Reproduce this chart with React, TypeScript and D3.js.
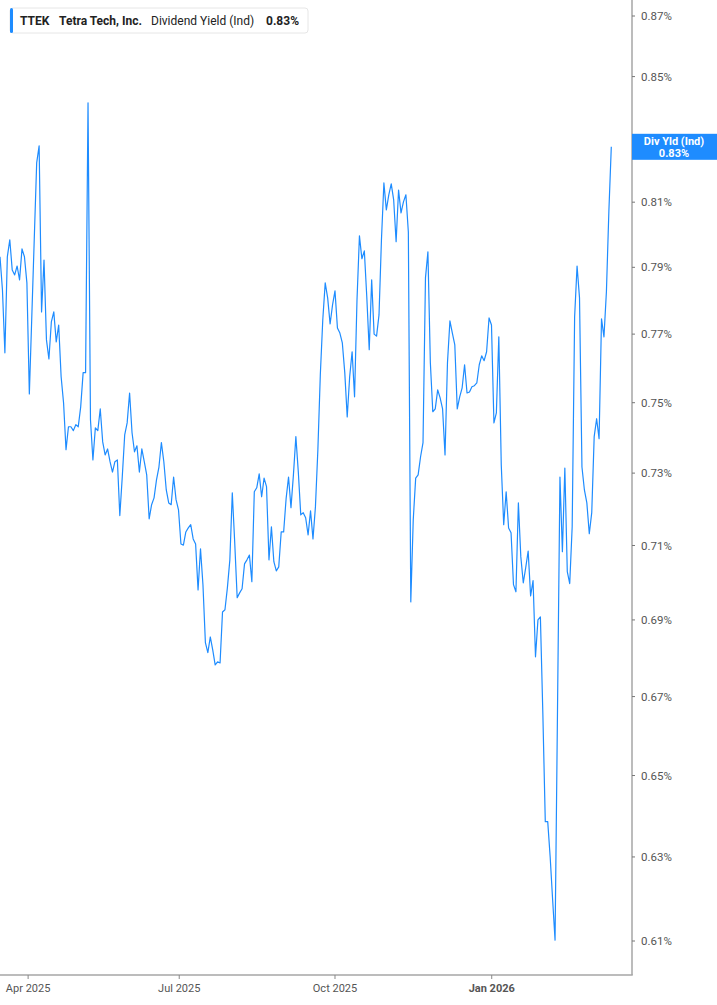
import React, { useEffect } from 'react';
import * as d3 from 'd3';

// Daily dividend yield (%), one value per trading day, Mar 2025 -> Mar 2026
const yieldValues = [
  0.7932, 0.7832, 0.7645, 0.7932, 0.7984, 0.7892, 0.7877, 0.7904, 0.7862, 0.7956,
  0.7932, 0.7853, 0.7525, 0.7751, 0.7984, 0.8223, 0.8277, 0.7766, 0.7922, 0.7683,
  0.7627, 0.7736, 0.7766, 0.7677, 0.7727, 0.7575, 0.7499, 0.7366, 0.7431, 0.7431,
  0.7420, 0.7437, 0.7431, 0.7488, 0.7587, 0.7587, 0.8415, 0.7451, 0.7337, 0.7428,
  0.7420, 0.7482, 0.7388, 0.7351, 0.7368, 0.7332, 0.7303, 0.7332, 0.7337, 0.7182,
  0.7289, 0.7408, 0.7442, 0.7528, 0.7414, 0.7360, 0.7377, 0.7303, 0.7368, 0.7332,
  0.7295, 0.7173, 0.7212, 0.7231, 0.7281, 0.7317, 0.7386, 0.7332, 0.7253, 0.7217,
  0.7212, 0.7289, 0.7226, 0.7198, 0.7104, 0.7101, 0.7137, 0.7148, 0.7157, 0.7118,
  0.7104, 0.6980, 0.7091, 0.6994, 0.6840, 0.6814, 0.6855, 0.6821, 0.6782, 0.6790,
  0.6787, 0.6921, 0.6927, 0.6986, 0.7061, 0.7245, 0.7107, 0.6959, 0.6972, 0.6983,
  0.7050, 0.7061, 0.7074, 0.7002, 0.7248, 0.7259, 0.7298, 0.7234, 0.7286, 0.7262,
  0.7061, 0.7151, 0.7056, 0.7031, 0.7042, 0.7137, 0.7137, 0.7228, 0.7289, 0.7204,
  0.7295, 0.7403, 0.7303, 0.7184, 0.7190, 0.7176, 0.7129, 0.7195, 0.7118, 0.7206,
  0.7366, 0.7581, 0.7742, 0.7853, 0.7808, 0.7730, 0.7787, 0.7829, 0.7718, 0.7703,
  0.7674, 0.7587, 0.7459, 0.7575, 0.7648, 0.7517, 0.7802, 0.7996, 0.7926, 0.7950,
  0.7811, 0.7654, 0.7862, 0.7700, 0.7694, 0.7757, 0.7984, 0.8160, 0.8076, 0.8123,
  0.8157, 0.8107, 0.7978, 0.8138, 0.8067, 0.8101, 0.8123, 0.8008, 0.6948, 0.7170,
  0.7286, 0.7295, 0.7346, 0.7386, 0.7868, 0.7947, 0.7616, 0.7474, 0.7482, 0.7537,
  0.7514, 0.7482, 0.7351, 0.7616, 0.7739, 0.7703, 0.7668, 0.7482, 0.7517, 0.7543,
  0.7610, 0.7528, 0.7531, 0.7546, 0.7549, 0.7557, 0.7610, 0.7636, 0.7622, 0.7648,
  0.7748, 0.7727, 0.7442, 0.7471, 0.7692, 0.7323, 0.7157, 0.7248, 0.7148, 0.7135,
  0.6994, 0.6975, 0.7217, 0.7069, 0.6999, 0.7040, 0.7085, 0.6964, 0.7005, 0.6803,
  0.6900, 0.6908, 0.6658, 0.6386, 0.6386, 0.6300, 0.6198, 0.6102, 0.6666, 0.7289,
  0.7083, 0.7314, 0.7029, 0.6997, 0.7151, 0.7751, 0.7904, 0.7808, 0.7317, 0.7253,
  0.7217, 0.7132, 0.7190, 0.7403, 0.7454, 0.7397, 0.7745, 0.7692, 0.7826, 0.8070,
  0.8274,
];

// x axis: trading-day index of each labelled month start
const monthTickIndex = [11.5, 73.3, 137, 201.1];
const monthTickLabels = ['Apr 2025', 'Jul 2025', 'Oct 2025', 'Jan 2026'];
const monthTickBold = [false, false, false, true];

// y axis ticks (%)
const yieldTicks = [0.61, 0.63, 0.65, 0.67, 0.69, 0.71, 0.73, 0.75, 0.77, 0.79, 0.81, 0.83, 0.85, 0.87];

const W = 717;
const H = 1005;
const plotRight = 632;
const plotBottom = 975;
const badgeHalf = 13;
const blue = '#1e8cff';
const axisFont = 'Roboto, "Liberation Sans", sans-serif';

const App: React.FC = () => {
  useEffect(() => {
    document.body.style.margin = '0';
  }, []);

  const x = d3.scaleLinear().domain([0, 250]).range([0, 611.3]);
  const y = d3.scaleLog().domain([0.61, 0.87]).range([941, 16]);

  const line = d3.line<number>()
    .x((_, i) => x(i))
    .y(d => y(d));

  const last = yieldValues[yieldValues.length - 1];
  const lastY = y(last);

  return (
    <svg width={W} height={H} style={{ display: 'block', background: '#fff' }}>
      <defs>
        <clipPath id="plot">
          <rect x={0} y={0} width={plotRight} height={plotBottom} />
        </clipPath>
      </defs>

      {/* series */}
      <path
        d={line(yieldValues) || ''}
        fill="none"
        stroke={blue}
        strokeWidth={1.2}
        strokeLinejoin="round"
        clipPath="url(#plot)"
      />

      {/* right axis */}
      <line x1={plotRight} x2={plotRight} y1={0} y2={plotBottom} stroke="#a6a6a6" strokeWidth={1.5} />
      {yieldTicks.map(t => (
        <g key={t} transform={`translate(${plotRight},${y(t)})`}>
          <line x1={0} x2={3} stroke="#777" strokeWidth={1} />
          {/* the label under the last-value badge is covered by it */}
          {Math.abs(y(t) - lastY) > badgeHalf + 4 && (
            <text
              x={9}
              dy="0.35em"
              fontFamily={axisFont}
              fontSize={11.5}
              fill="#555"
            >
              {t.toFixed(2)}%
            </text>
          )}
        </g>
      ))}

      {/* bottom axis */}
      <line x1={0} x2={plotRight + 0.75} y1={plotBottom} y2={plotBottom} stroke="#a6a6a6" strokeWidth={1.5} />
      {monthTickIndex.map((t, i) => (
        <g key={monthTickLabels[i]} transform={`translate(${x(t)},${plotBottom})`}>
          <line y1={0} y2={4} stroke="#888" strokeWidth={1} />
          <text
            y={17}
            textAnchor="middle"
            fontFamily={axisFont}
            fontSize={11}
            fontWeight={monthTickBold[i] ? 700 : 400}
            fill="#555"
          >
            {monthTickLabels[i]}
          </text>
        </g>
      ))}

      {/* last value badge */}
      <g transform={`translate(${plotRight},${lastY})`}>
        <rect x={0} y={-badgeHalf} width={W - plotRight} height={badgeHalf * 2} fill={blue} />
        <text x={42} y={-2} textAnchor="middle" fontFamily={axisFont} fontSize={11} fontWeight={700} fill="#fff">
          Div Yld (Ind)
        </text>
        <text x={42} y={10} textAnchor="middle" fontFamily={axisFont} fontSize={11} fontWeight={700} fill="#fff">
          {last.toFixed(2)}%
        </text>
      </g>

      {/* legend */}
      <g transform="translate(10,8)">
        <rect x={0} y={0} width={298} height={25} rx={3} fill="#fff" stroke="#e6e6e6" />
        <rect x={0} y={0} width={3} height={25} rx={1.5} fill={blue} />
        <text x={10} y={17} fontFamily={axisFont} fontSize={12} fill="#222">
          <tspan fontWeight={700}>TTEK</tspan>
          <tspan x={49} fontWeight={700}>Tetra Tech, Inc.</tspan>
          <tspan x={141}>Dividend Yield (Ind)</tspan>
          <tspan x={256} fontWeight={700}>{last.toFixed(2)}%</tspan>
        </text>
      </g>
    </svg>
  );
};

export default App;
